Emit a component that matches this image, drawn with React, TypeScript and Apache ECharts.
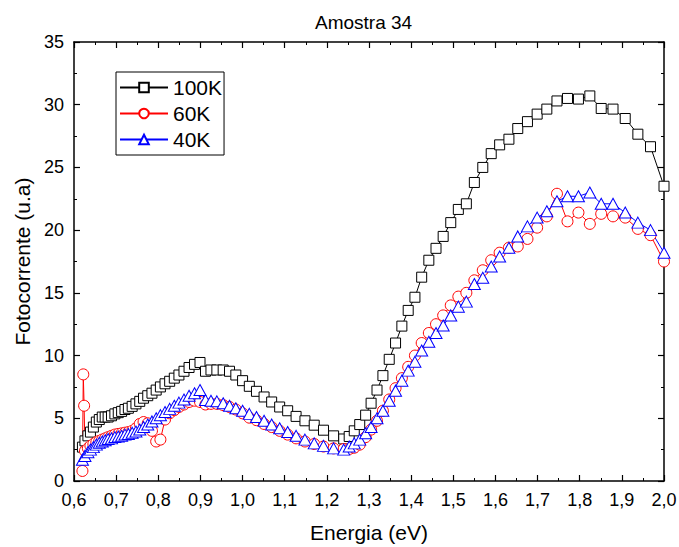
import React, { useEffect, useRef } from "react";
import * as echarts from "echarts";

// Photon energy (eV) of each measured point
const energia = [
  0.620, 0.626, 0.633, 0.639, 0.646, 0.653, 0.660, 0.667, 0.674, 0.681,
  0.689, 0.697, 0.705, 0.713, 0.721, 0.729, 0.738, 0.747, 0.756, 0.765,
  0.775, 0.785, 0.795, 0.805, 0.816, 0.827, 0.838, 0.849, 0.861, 0.873,
  0.886, 0.899, 0.912, 0.925, 0.939, 0.954, 0.969, 0.984, 1.000, 1.016,
  1.033, 1.051, 1.069, 1.088, 1.107, 1.127, 1.148, 1.170, 1.192, 1.216,
  1.240,
  1.253, 1.265, 1.278, 1.292, 1.305, 1.319, 1.333, 1.348, 1.363, 1.378,
  1.393, 1.409, 1.425, 1.442, 1.459, 1.476, 1.494, 1.512, 1.531, 1.550,
  1.570, 1.590, 1.610, 1.632, 1.653, 1.676, 1.699, 1.722, 1.746, 1.771,
  1.797, 1.824, 1.851, 1.879, 1.908, 1.938, 1.968, 2.000,
];

// Photocurrent (u.a) at 100 K
const fotocorrente100K = [
  2.7, 3.2, 3.6, 3.9, 4.3, 4.7, 4.9, 5.1, 5.1, 5.1,
  5.2, 5.35, 5.45, 5.55, 5.7, 5.8, 5.95, 6.15, 6.35, 6.6,
  6.8, 7.0, 7.25, 7.5, 7.75, 7.95, 8.2, 8.45, 8.75, 9.05,
  9.3, 9.45, 8.75, 8.85, 8.85, 8.85, 8.75, 8.45, 8.0, 7.55,
  7.15, 6.7, 6.3, 5.9, 5.6, 5.15, 4.8, 4.45, 4.05, 3.6,
  3.35,
  3.55, 4.0, 4.5, 5.25, 6.2, 7.25, 8.4, 9.7, 11.0, 12.35,
  13.6, 14.65, 16.25, 17.6, 18.55, 19.5, 20.6, 21.65, 22.1, 23.8,
  25.0, 26.1, 26.8, 27.25, 28.1, 28.65, 29.25, 29.65, 30.3, 30.5,
  30.45, 30.7, 29.7, 29.65, 28.9, 27.65, 26.65, 23.5,
];

// The 60 K run starts with three unstable readings before the regular sweep
const energiaInicio60K = [0.620, 0.622, 0.624];
const fotocorrente60K = [
  0.8, 8.5, 6.0,
  2.4, 2.6, 2.8, 2.95, 3.1, 3.2, 3.3, 3.4, 3.5, 3.6,
  3.7, 3.75, 3.8, 3.85, 3.9, 4.0, 4.2, 4.55, 4.7, 4.6,
  4.0, 3.15, 3.3, 4.9, 5.4, 5.65, 5.9, 6.1, 6.3, 6.4,
  6.3, 6.1, 6.15, 6.15, 6.05, 5.9, 5.7, 5.4, 5.05, 4.85,
  4.55, 4.3, 4.0, 3.7, 3.4, 3.15, 2.95, 2.75, 2.6, 2.55,
  2.55, 2.65, 2.9, 3.5, 4.1, 4.8, 5.6, 6.5, 7.4, 8.2,
  9.1, 10.0, 11.0, 11.8, 12.5, 13.2, 14.0, 14.7, 15.0, 16.0,
  16.8, 17.6, 18.2, 18.6, 18.7, 19.3, 20.2, 21.1, 22.9, 20.7,
  21.4, 20.5, 21.3, 21.1, 21.0, 20.1, 19.6, 17.5,
];

// Photocurrent (u.a) at 40 K
const fotocorrente40K = [
  1.7, 2.0, 2.3, 2.5, 2.7, 2.9, 3.05, 3.15, 3.25, 3.35,
  3.4, 3.5, 3.55, 3.6, 3.7, 3.75, 3.85, 3.95, 4.1, 4.3,
  4.5, 4.75, 5.0, 5.25, 5.5, 5.75, 6.0, 6.25, 6.5, 6.8,
  7.0, 7.25, 6.45, 6.4, 6.35, 6.2, 6.0, 5.8, 5.6, 5.35,
  5.1, 4.8, 4.5, 4.2, 3.9, 3.6, 3.3, 3.0, 2.8, 2.6,
  2.5,
  2.75, 3.0, 3.3, 3.8, 4.3, 5.0, 5.6, 6.4, 7.2, 8.0,
  8.8, 9.5, 10.4, 11.1, 11.8, 12.4, 13.2, 13.9, 14.3, 15.7,
  16.2, 17.1, 17.9, 18.6, 19.5, 20.3, 21.0, 21.5, 22.3, 22.7,
  22.7, 23.0, 22.1, 22.1, 21.4, 20.6, 20.0, 18.2,
];

const nomesSeries = ["100K", "60K", "40K"];
const coresSeries = ["#000000", "#ff0000", "#0000ff"];

const FONTE = "'Liberation Sans', Arial, sans-serif";

function pares(xs: number[], ys: number[]) {
  return xs.map((x, i) => [x, ys[i]]);
}

export default function App() {
  const ref = useRef<HTMLDivElement>(null);

  useEffect(() => {
    if (!ref.current) return;
    const chart = echarts.init(ref.current, null, { renderer: "svg" });

    const energia60K = [...energiaInicio60K, ...energia.slice(1)];

    const serie = (
      nome: string,
      cor: string,
      dados: number[][],
      simbolo: string,
      tamanho: number | number[]
    ) => ({
      name: nome,
      type: "line",
      data: dados,
      symbol: simbolo,
      symbolSize: tamanho,
      showAllSymbol: true,
      silent: true,
      lineStyle: { color: cor, width: 1 },
      itemStyle: { color: "#ffffff", borderColor: cor, borderWidth: 1 },
      emphasis: { disabled: true },
    });

    const eixoComum = {
      axisLine: { show: true, onZero: false, lineStyle: { color: "#000", width: 1.5 } },
      axisTick: { show: true, inside: true, length: 6, lineStyle: { color: "#000", width: 1.2 } },
      minorTick: { show: true, splitNumber: 2, length: 3, lineStyle: { color: "#000", width: 1 } },
      splitLine: { show: false },
    };

    chart.setOption({
      animation: false,
      backgroundColor: "#ffffff",
      title: {
        text: "Amostra 34",
        left: 310,
        top: 8,
        textStyle: { fontSize: 19, fontWeight: "normal", color: "#000", fontFamily: FONTE },
      },
      legend: {
        orient: "vertical",
        left: 116,
        top: 72,
        data: nomesSeries,
        selectedMode: false,
        borderColor: "#000",
        borderWidth: 1,
        borderRadius: 0,
        padding: [5, 2, 5, 3],
        itemWidth: 48,
        itemHeight: 12,
        itemGap: 5,
        textStyle: { fontSize: 21, color: "#000", fontFamily: FONTE },
      },
      grid: {
        left: 74,
        right: 15,
        top: 42,
        bottom: 66,
        containLabel: false,
        outerBoundsMode: "none",
      },
      xAxis: [
        {
          type: "value",
          position: "bottom",
          min: 0.6,
          max: 2.0,
          interval: 0.1,
          ...eixoComum,
          axisLabel: {
            color: "#000",
            fontSize: 18,
            fontFamily: FONTE,
            margin: 10,
            formatter: (v: number) => v.toFixed(1).replace(".", ","),
          },
          name: "Energia (eV)",
          nameLocation: "middle",
          nameGap: 41,
          nameTextStyle: { color: "#000", fontSize: 21, fontFamily: FONTE },
        },
        {
          type: "value",
          position: "top",
          min: 0.6,
          max: 2.0,
          interval: 0.1,
          ...eixoComum,
          axisLabel: { show: false },
        },
      ],
      yAxis: [
        {
          type: "value",
          position: "left",
          min: 0,
          max: 35,
          interval: 5,
          ...eixoComum,
          axisLabel: { color: "#000", fontSize: 18, fontFamily: FONTE, margin: 10 },
          name: "Fotocorrente (u.a)",
          nameLocation: "middle",
          nameGap: 40,
          nameTextStyle: { color: "#000", fontSize: 21, fontFamily: FONTE },
        },
        {
          type: "value",
          position: "right",
          min: 0,
          max: 35,
          interval: 5,
          ...eixoComum,
          axisLabel: { show: false },
        },
      ],
      series: [
        serie(nomesSeries[0], coresSeries[0], pares(energia, fotocorrente100K), "rect", 10),
        serie(nomesSeries[1], coresSeries[1], pares(energia60K, fotocorrente60K), "circle", 11),
        serie(nomesSeries[2], coresSeries[2], pares(energia, fotocorrente40K), "triangle", [12, 11]),
      ],
    });

    return () => chart.dispose();
  }, []);

  return (
    <div
      ref={ref}
      style={{ position: "absolute", left: 0, top: 0, width: 679, height: 547 }}
    />
  );
}
